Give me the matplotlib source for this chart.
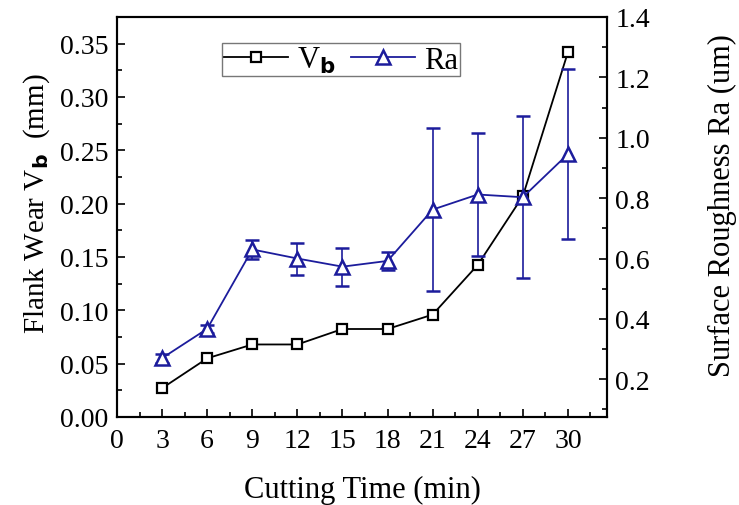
import numpy as np
import matplotlib
matplotlib.use('Agg')
from matplotlib import pyplot as plt
from matplotlib.ticker import MultipleLocator, FormatStrFormatter
from matplotlib.lines import Line2D

plt.rcParams['font.family'] = ['Liberation Serif', 'DejaVu Serif']
plt.rcParams['mathtext.fontset'] = 'dejavusans'

# cutting time (min)
time_min = [3, 6, 9, 12, 15, 18, 21, 24, 27, 30]
# flank wear Vb (mm), left axis
vb = [0.027, 0.055, 0.068, 0.068, 0.0825, 0.0825, 0.096, 0.1426, 0.207, 0.342]
# surface roughness Ra (um), right axis, with error
ra = [0.27, 0.367, 0.63, 0.60, 0.573, 0.592, 0.762, 0.812, 0.803, 0.946]
ra_err = [0.015, 0.013, 0.031, 0.053, 0.0625, 0.031, 0.269, 0.204, 0.269, 0.283]

ra_color = '#1c1c9c'

fig = plt.figure(figsize=(7.39, 5.06), dpi=100)
ax = fig.add_axes([117/739, (506-418)/506, (607-117)/739, (418-18)/506])
ax2 = ax.twinx()

ax.plot(time_min, vb, color='black', lw=1.3, marker='s', ms=7,
        mfc='white', mec='black', mew=1.6, zorder=3)
ax2.errorbar(time_min, ra, yerr=ra_err, color=ra_color, lw=1.3,
             marker='^', ms=10, mfc='white', mec=ra_color, mew=1.8,
             capsize=5, elinewidth=1.2, capthick=1.2)

ax.set_xlim(0, 32.6)
ax.set_ylim(0, 0.375)
ax2.set_ylim(0.075, 1.4)

ax.xaxis.set_major_locator(MultipleLocator(3))
ax.xaxis.set_minor_locator(MultipleLocator(1.5))
ax.yaxis.set_major_locator(MultipleLocator(0.05))
ax.yaxis.set_minor_locator(MultipleLocator(0.025))
ax2.yaxis.set_major_locator(MultipleLocator(0.2))
ax2.yaxis.set_minor_locator(MultipleLocator(0.1))
ax.yaxis.set_major_formatter(FormatStrFormatter('%.2f'))
ax2.yaxis.set_major_formatter(FormatStrFormatter('%.1f'))

for a in (ax, ax2):
    a.tick_params(which='both', direction='in', labelsize=20, width=1.2, pad=6)
    a.tick_params(which='major', length=6)
    a.tick_params(which='minor', length=3.5)
    for s in a.spines.values():
        s.set_linewidth(1.5)
ax.tick_params(axis='y', right=False)
ax.tick_params(axis='x', top=False, pad=8)

ax.set_xlabel('Cutting Time (min)', fontsize=22, labelpad=16)
ax.set_ylabel('Flank Wear V$_\\mathbf{b}$  (mm)', fontsize=21, labelpad=6)
ax.yaxis.label.set_y(0.535)
ax2.set_ylabel('Surface Roughness Ra (um)', fontsize=22, labelpad=42)
ax2.yaxis.label.set_y(0.53)

h1 = Line2D([], [], color='black', lw=1.3, marker='s', ms=7,
            mfc='white', mec='black', mew=1.6)
h2 = Line2D([], [], color=ra_color, lw=1.3, marker='^', ms=10,
            mfc='white', mec=ra_color, mew=1.8)
leg = ax.legend([h1, h2], ['V$_\\mathbf{b}$', 'Ra'], ncol=2, loc='upper left',
                bbox_to_anchor=(0.215, 0.935), fontsize=22, frameon=True,
                fancybox=False, edgecolor='#555555', handlelength=2.1,
                columnspacing=0.5, handletextpad=0.3, borderpad=0.05,
                borderaxespad=0.0)
leg.get_frame().set_linewidth(1.0)

fig.savefig('out.png', dpi=100)
